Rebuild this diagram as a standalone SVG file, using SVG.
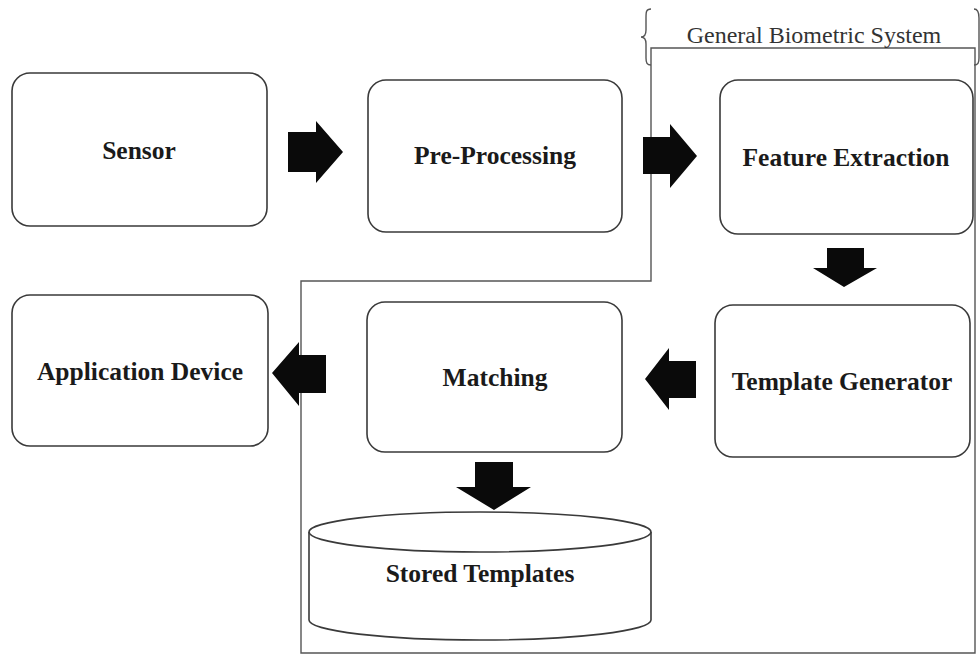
<svg xmlns="http://www.w3.org/2000/svg" width="980" height="657" viewBox="0 0 980 657">
  <style>
    .box { fill: #ffffff; stroke: #3a3a3a; stroke-width: 1.6; }
    .lbl { font-family: "Liberation Serif", "Times New Roman", serif; font-weight: bold; font-size: 25.5px; fill: #1a1a1a; text-anchor: middle; dominant-baseline: central; }
    .title { font-family: "Liberation Serif", "Times New Roman", serif; font-size: 24px; fill: #333333; text-anchor: middle; }
    .frame { fill: none; stroke: #555555; stroke-width: 1.4; }
    .arrow { fill: #0a0a0a; stroke: none; }
  </style>
  <rect width="980" height="657" fill="#ffffff"/>

  <!-- system boundary -->
  <g id="system-boundary">
    <path class="frame" d="M651,48 L975,48 L975,653 L301,653 L301,281 L651,281 Z"/>
    <path class="frame" d="M651,9 C646,9 646,12 646,18 L646,30 C646,35 644,37 641,37 C644,37 646,39 646,44 L646,58 C646,63 647,65 651,65"/>
    <path class="frame" d="M974,9 C978,9 979,12 979,18 L979,58 C979,63 978,65 974,65"/>
    <text class="title" x="814" y="43">General Biometric System</text>
  </g>

  <g id="sensor">
    <rect class="box" x="12" y="73" width="255" height="153" rx="18"/>
    <text class="lbl" x="139" y="150">Sensor</text>
  </g>
  <g id="pre-processing">
    <rect class="box" x="368" y="80" width="254" height="152" rx="18"/>
    <text class="lbl" x="495" y="155">Pre-Processing</text>
  </g>
  <g id="feature-extraction">
    <rect class="box" x="720" y="80" width="253" height="154" rx="18"/>
    <text class="lbl" x="846" y="157">Feature Extraction</text>
  </g>
  <g id="template-generator">
    <rect class="box" x="715" y="305" width="255" height="152" rx="18"/>
    <text class="lbl" x="842" y="381">Template Generator</text>
  </g>
  <g id="matching">
    <rect class="box" x="367" y="302" width="255" height="150" rx="18"/>
    <text class="lbl" x="495" y="377">Matching</text>
  </g>
  <g id="application-device">
    <rect class="box" x="12" y="295" width="256" height="151" rx="18"/>
    <text class="lbl" x="140" y="371">Application Device</text>
  </g>
  <g id="stored-templates">
    <path class="box" d="M309,532 L309,620 A171,20 0 0 0 651,620 L651,532"/>
    <ellipse class="box" cx="480" cy="532" rx="171" ry="20"/>
    <text class="lbl" x="480" y="573">Stored Templates</text>
  </g>

  <!-- block arrows between stages -->
  <g id="connectors">
    <polygon class="arrow" points="288,132 316,132 316,121 343,152 316,183 316,172 288,172"/>
    <polygon class="arrow" points="643,137 670,137 670,124 697,156 670,188 670,174 643,174"/>
    <polygon class="arrow" points="827,248 864,248 864,268 877,268 844,287 813,268 827,268"/>
    <polygon class="arrow" points="696,361 669,361 669,348 645,379 669,410 669,398 696,398"/>
    <polygon class="arrow" points="326,355 299,355 299,342 272,373 299,406 299,393 326,393"/>
    <polygon class="arrow" points="475,462 513,462 513,487 531,487 494,510 456,487 475,487"/>
  </g>
</svg>
